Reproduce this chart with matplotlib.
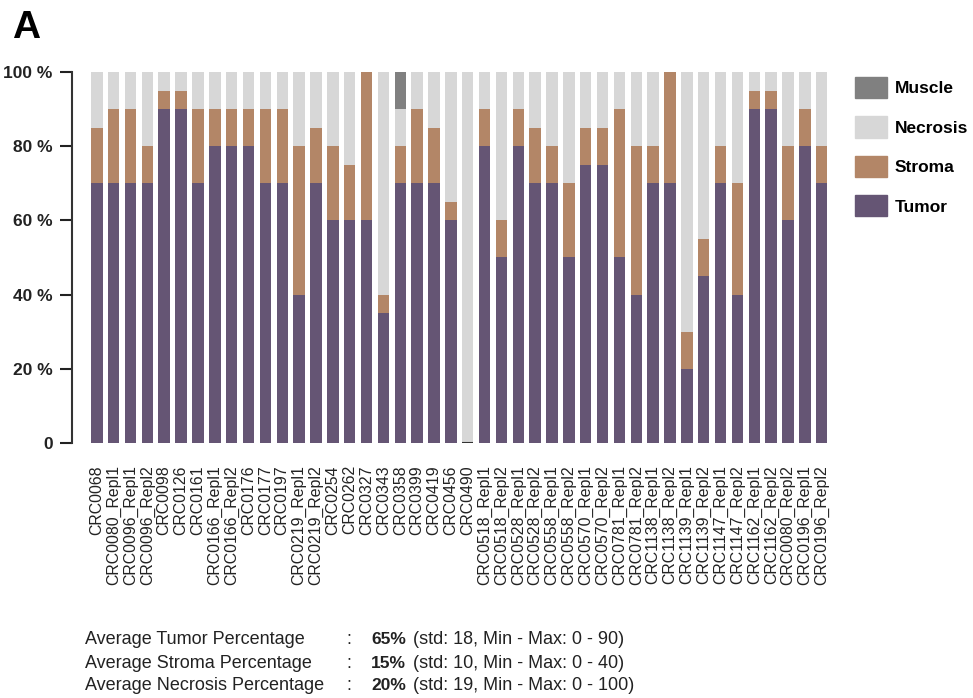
import numpy as np
import matplotlib
matplotlib.use("Agg")
import matplotlib.pyplot as plt
from matplotlib.patches import Patch

plt.rcParams['font.family'] = ['Liberation Sans', 'DejaVu Sans']

# sample names
samples = [
    "CRC0068", "CRC0080_Repl1", "CRC0096_Repl1", "CRC0096_Repl2", "CRC0098",
    "CRC0126", "CRC0161", "CRC0166_Repl1", "CRC0166_Repl2", "CRC0176",
    "CRC0177", "CRC0197", "CRC0219_Repl1", "CRC0219_Repl2", "CRC0254",
    "CRC0262", "CRC0327", "CRC0343", "CRC0358", "CRC0399", "CRC0419",
    "CRC0456", "CRC0490", "CRC0518_Repl1", "CRC0518_Repl2", "CRC0528_Repl1",
    "CRC0528_Repl2", "CRC0558_Repl1", "CRC0558_Repl2", "CRC0570_Repl1",
    "CRC0570_Repl2", "CRC0781_Repl1", "CRC0781_Repl2", "CRC1138_Repl1",
    "CRC1138_Repl2", "CRC1139_Repl1", "CRC1139_Repl2", "CRC1147_Repl1",
    "CRC1147_Repl2", "CRC1162_Repl1", "CRC1162_Repl2", "CRC0080_Repl2",
    "CRC0196_Repl1", "CRC0196_Repl2",
]

# percentages per tissue type
tumor = [70, 70, 70, 70, 90, 90, 70, 80, 80, 80, 70, 70, 40, 70, 60, 60, 60, 35,
         70, 70, 70, 60, 0, 80, 50, 80, 70, 70, 50, 75, 75, 50, 40, 70, 70, 20,
         45, 70, 40, 90, 90, 60, 80, 70]
stroma = [15, 20, 20, 10, 5, 5, 20, 10, 10, 10, 20, 20, 40, 15, 20, 15, 40, 5,
          10, 20, 15, 5, 0, 10, 10, 10, 15, 10, 20, 10, 10, 40, 40, 10, 30, 10,
          10, 10, 30, 5, 5, 20, 10, 10]
necrosis = [15, 10, 10, 20, 5, 5, 10, 10, 10, 10, 10, 10, 20, 15, 20, 25, 0, 60,
            10, 10, 15, 35, 100, 10, 40, 10, 15, 20, 30, 15, 15, 10, 20, 20, 0,
            70, 45, 20, 30, 5, 5, 20, 10, 20]
muscle = [0] * 18 + [10] + [0] * 25

yticks = [0, 20, 40, 60, 80, 100]
ytick_labels = ["0", "20 %", "40 %", "60 %", "80 %", "100 %"]

stat_names = ["Average Tumor Percentage", "Average Stroma Percentage",
              "Average Necrosis Percentage"]
stat_means = ["65%", "15%", "20%"]
stat_details = ["(std: 18, Min - Max: 0 - 90)", "(std: 10, Min - Max: 0 - 40)",
                "(std: 19, Min - Max: 0 - 100)"]

c_tumor = "#655574"
c_stroma = "#B38667"
c_necrosis = "#D7D7D7"
c_muscle = "#808080"

W, H = 973, 698
fig = plt.figure(figsize=(W / 100, H / 100), dpi=100)

ax_left, ax_right = 72, 840
ax_top, ax_bottom = 72, 443
ax = fig.add_axes([ax_left / W, 1 - ax_bottom / H,
                   (ax_right - ax_left) / W, (ax_bottom - ax_top) / H])

x = np.arange(len(samples))
t = np.array(tumor)
s = np.array(stroma)
n = np.array(necrosis)
m = np.array(muscle)
bw = 0.68

ax.bar(x, t, bw, color=c_tumor, linewidth=0)
ax.bar(x, s, bw, bottom=t, color=c_stroma, linewidth=0)
ax.bar(x, n, bw, bottom=t + s, color=c_necrosis, linewidth=0)
ax.bar(x, m, bw, bottom=t + s + n, color=c_muscle, linewidth=0)

# dark base line where the tumor share is zero
zero = x[t == 0]
ax.hlines(t[t == 0], zero - bw / 2, zero + bw / 2, color="#333333",
          linewidth=1.5, zorder=3)

pitch = 16.86
ax.set_xlim(-1.47, -1.47 + (ax_right - ax_left) / pitch)
ax.set_ylim(0, 100)

ax.set_yticks(yticks)
ax.set_yticklabels(ytick_labels, fontsize=12.5, fontweight="bold")
ax.tick_params(axis="y", direction="out", length=9, width=1.5, pad=5,
               colors="#222222")
ax.set_xticks(x)
ax.set_xticklabels(samples, rotation=90, fontsize=11.4, color="#222222")
ax.tick_params(axis="x", length=0, pad=16)

for side in ["top", "right", "bottom"]:
    ax.spines[side].set_visible(False)
ax.spines["left"].set_linewidth(1.5)
ax.spines["left"].set_color("#333333")

handles = [Patch(color=c_muscle, label="Muscle"),
           Patch(color=c_necrosis, label="Necrosis"),
           Patch(color=c_stroma, label="Stroma"),
           Patch(color=c_tumor, label="Tumor")]
leg = fig.legend(handles=handles, loc="upper left",
                 bbox_to_anchor=(855 / W, 1 - 77 / H), frameon=False,
                 prop={"size": 12.5, "weight": "bold"},
                 handlelength=1.84, handleheight=1.5, handletextpad=0.45,
                 labelspacing=1.05, borderpad=0, borderaxespad=0)

fig.text(12 / W, 1 - 38 / H, "A", fontsize=28, fontweight="bold",
         va="baseline", ha="left")

line_y = [640, 663, 686]
for i in range(3):
    yy = 1 - line_y[i] / H
    fig.text(85 / W, yy, stat_names[i], fontsize=13, va="center", color="#222222")
    fig.text(346 / W, yy, ":", fontsize=13, va="center", color="#222222")
    fig.text(371 / W, yy, stat_means[i], fontsize=12.5, fontweight="bold",
             va="center", color="#222222")
    fig.text(413 / W, yy, stat_details[i], fontsize=13, va="center",
             color="#222222")

fig.savefig("out.png", dpi=100)
